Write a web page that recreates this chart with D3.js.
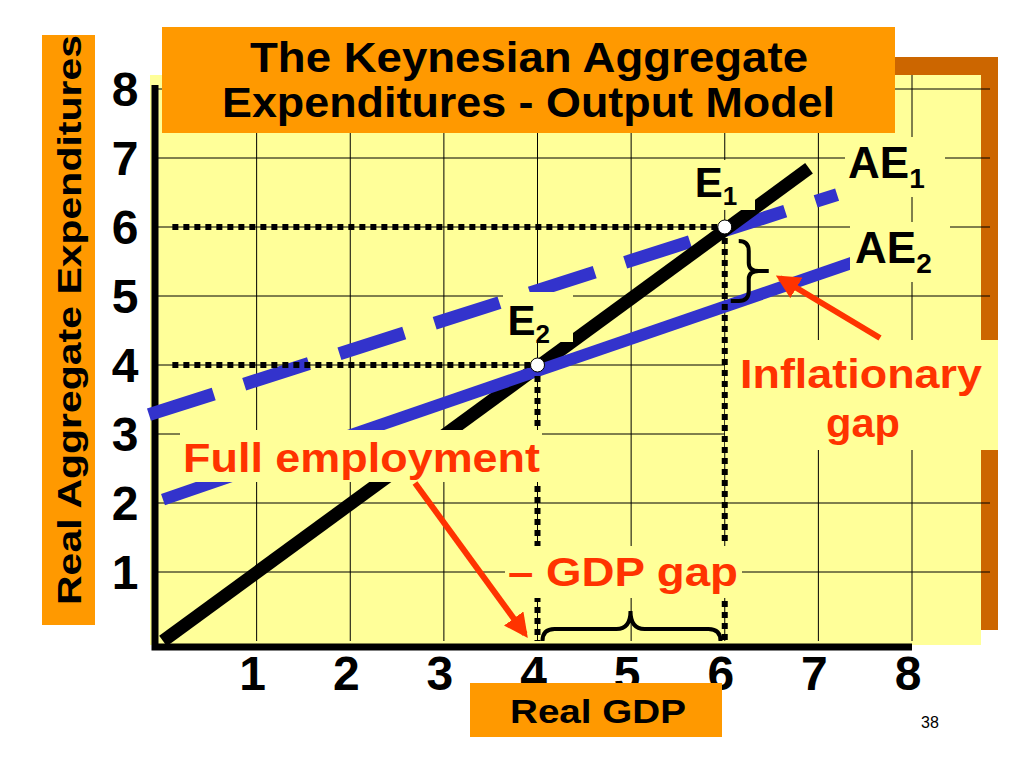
<!DOCTYPE html>
<html><head><meta charset="utf-8">
<script src="https://cdn.jsdelivr.net/npm/d3@7"></script>
<style>body{margin:0;background:#fff}svg{display:block}text{font-family:"Liberation Sans",Arial,sans-serif;font-weight:bold}</style>
</head><body><svg id="c" width="1024" height="768"></svg>
<script>
const xTicks=[1,2,3,4,5,6,7,8];
const yTicks=[1,2,3,4,5,6,7,8];
const ae1=[[0,0],[6.9,6.85]];
const ae2=[[0,2.05],[7.4,5.5]];
const ae1Dashed=[[-0.15,3.28],[7.2,6.47]];
const equilibria=[{x:4,y:4,label:"E",sub:"2"},{x:6,y:6,label:"E",sub:"1"}];
const title=["The Keynesian Aggregate","Expenditures - Output Model"];

const svg=d3.select("#c");
const x=d3.scaleLinear().domain([0,8]).range([163,912]);
const y=d3.scaleLinear().domain([0,8]).range([641,89]);
const red="#ff3300",blue="#3333cc",orange="#ff9900",brown="#cc6600",yel="#ffff99";

svg.append("rect").attr("x",895).attr("y",57).attr("width",103).attr("height",573).attr("fill",brown);
svg.append("rect").attr("x",150).attr("y",75).attr("width",831).attr("height",570).attr("fill",yel);
const g=svg.append("g").attr("stroke","#000").attr("stroke-width",1);
g.selectAll(".v").data(xTicks).join("line").attr("x1",d=>x(d)).attr("x2",d=>x(d)).attr("y1",75).attr("y2",y(0));
g.selectAll(".h").data(yTicks).join("line").attr("y1",d=>y(d)).attr("y2",d=>y(d)).attr("x1",x(0)-10).attr("x2",990);
svg.append("rect").attr("x",725).attr("y",340).attr("width",273).attr("height",110).attr("fill",yel);
svg.append("path").attr("d",`M155,85V647H912`).attr("fill","none").attr("stroke","#000").attr("stroke-width",7);

const line=d3.line().x(d=>x(d[0])).y(d=>y(d[1]));
svg.append("path").attr("d",line(ae1Dashed)).attr("stroke",blue).attr("stroke-width",13).attr("stroke-dasharray","68,32").attr("fill","none");
svg.append("path").attr("d",line(ae1)).attr("stroke","#000").attr("stroke-width",13).attr("fill","none");
svg.append("path").attr("d",line(ae2)).attr("stroke",blue).attr("stroke-width",12).attr("fill","none");

const dot=svg.append("g").attr("stroke","#000").attr("stroke-width",6).attr("stroke-dasharray","6,5").attr("fill","none");
equilibria.forEach(e=>{
  dot.append("line").attr("x1",x(0.1)).attr("x2",x(e.x)).attr("y1",y(e.y)).attr("y2",y(e.y));
  dot.append("line").attr("x1",x(e.x)).attr("x2",x(e.x)).attr("y1",y(e.y)).attr("y2",y(0));
});

function box(x0,y0,w,h,f){svg.append("rect").attr("x",x0).attr("y",y0).attr("width",w).attr("height",h).attr("fill",f);}
function txt(px,py,s,size,len,fill,anchor){return svg.append("text").attr("x",px).attr("y",py).attr("font-size",size).attr("fill",fill||"#000").attr("text-anchor",anchor||"start").attr("textLength",len).attr("lengthAdjust","spacingAndGlyphs").text(s);}
box(180,430,362,52,yel);
box(505,546,237,52,yel);
box(503,292,70,50,yel);
box(700,160,55,50,yel);
box(845,137,100,60,yel);
box(850,222,100,60,yel);

equilibria.forEach(e=>{
  svg.append("circle").attr("cx",x(e.x)).attr("cy",y(e.y)).attr("r",7).attr("fill","#fff").attr("stroke","#000").attr("stroke-width",1);
  const t=svg.append("text").attr("x",x(e.x)-30).attr("y",y(e.y)-30).attr("font-size",42);
  t.append("tspan").text(e.label);
  t.append("tspan").text(e.sub).attr("font-size",26).attr("dy",8);
});
function aeLabel(px,py,s){const t=svg.append("text").attr("x",px).attr("y",py).attr("font-size",44);t.append("tspan").text("AE");t.append("tspan").text(s).attr("font-size",28).attr("dy",10);}
aeLabel(848,178,"1");aeLabel(855,263,"2");

const br=svg.append("g").attr("stroke","#000").attr("stroke-width",4).attr("fill","none");
br.append("path").attr("d",`M${x(6)+14},${y(6)+14} q10,0 10,10 v12 q0,8 10,8 h10 h-10 q-10,0 -10,8 v12 q0,10 -10,10 h-8`);
br.append("path").attr("d",`M${x(4)+5},${y(0)} q0,-12 12,-12 h62 q14,0 14,-18 q0,18 14,18 h64 q12,0 12,12`);

const defs=svg.append("defs");
defs.append("marker").attr("id","ah").attr("viewBox","0 0 10 10").attr("refX",8).attr("refY",5).attr("markerWidth",4).attr("markerHeight",4).attr("orient","auto").append("path").attr("d","M0,0L10,5L0,10z").attr("fill",red);
svg.append("line").attr("x1",415).attr("y1",483).attr("x2",525).attr("y2",634).attr("stroke",red).attr("stroke-width",6).attr("marker-end","url(#ah)");
svg.append("line").attr("x1",880).attr("y1",338).attr("x2",780).attr("y2",278).attr("stroke",red).attr("stroke-width",6).attr("marker-end","url(#ah)");

txt(183,472,"Full employment",40,357,red);
txt(508,586,"– GDP gap",40,230,red);
txt(740,388,"Inflationary",40,242,red);
txt(826,437,"gap",40,74,red);

svg.selectAll(".xt").data(xTicks).join("text").attr("x",d=>x(d)-4).attr("y",690).attr("text-anchor","middle").attr("font-size",48).text(d=>d);
svg.selectAll(".yt").data(yTicks).join("text").attr("x",125).attr("y",d=>y(d)+17).attr("text-anchor","middle").attr("font-size",48).text(d=>d);

box(162,27,733,106,orange);
txt(250,72,title[0],42,558);
txt(222,117,title[1],42,613);
box(42,35,53,590,orange);
svg.append("text").attr("transform","translate(81,605) rotate(-90)").attr("font-size",33).attr("textLength",570).attr("lengthAdjust","spacingAndGlyphs").text("Real Aggregate Expenditures");
box(470,683,252,54,orange);
txt(510,723,"Real GDP",34,176);
svg.append("text").attr("x",930).attr("y",728).attr("text-anchor","middle").attr("font-size",16).style("font-weight","normal").text("38");
</script></body></html>
